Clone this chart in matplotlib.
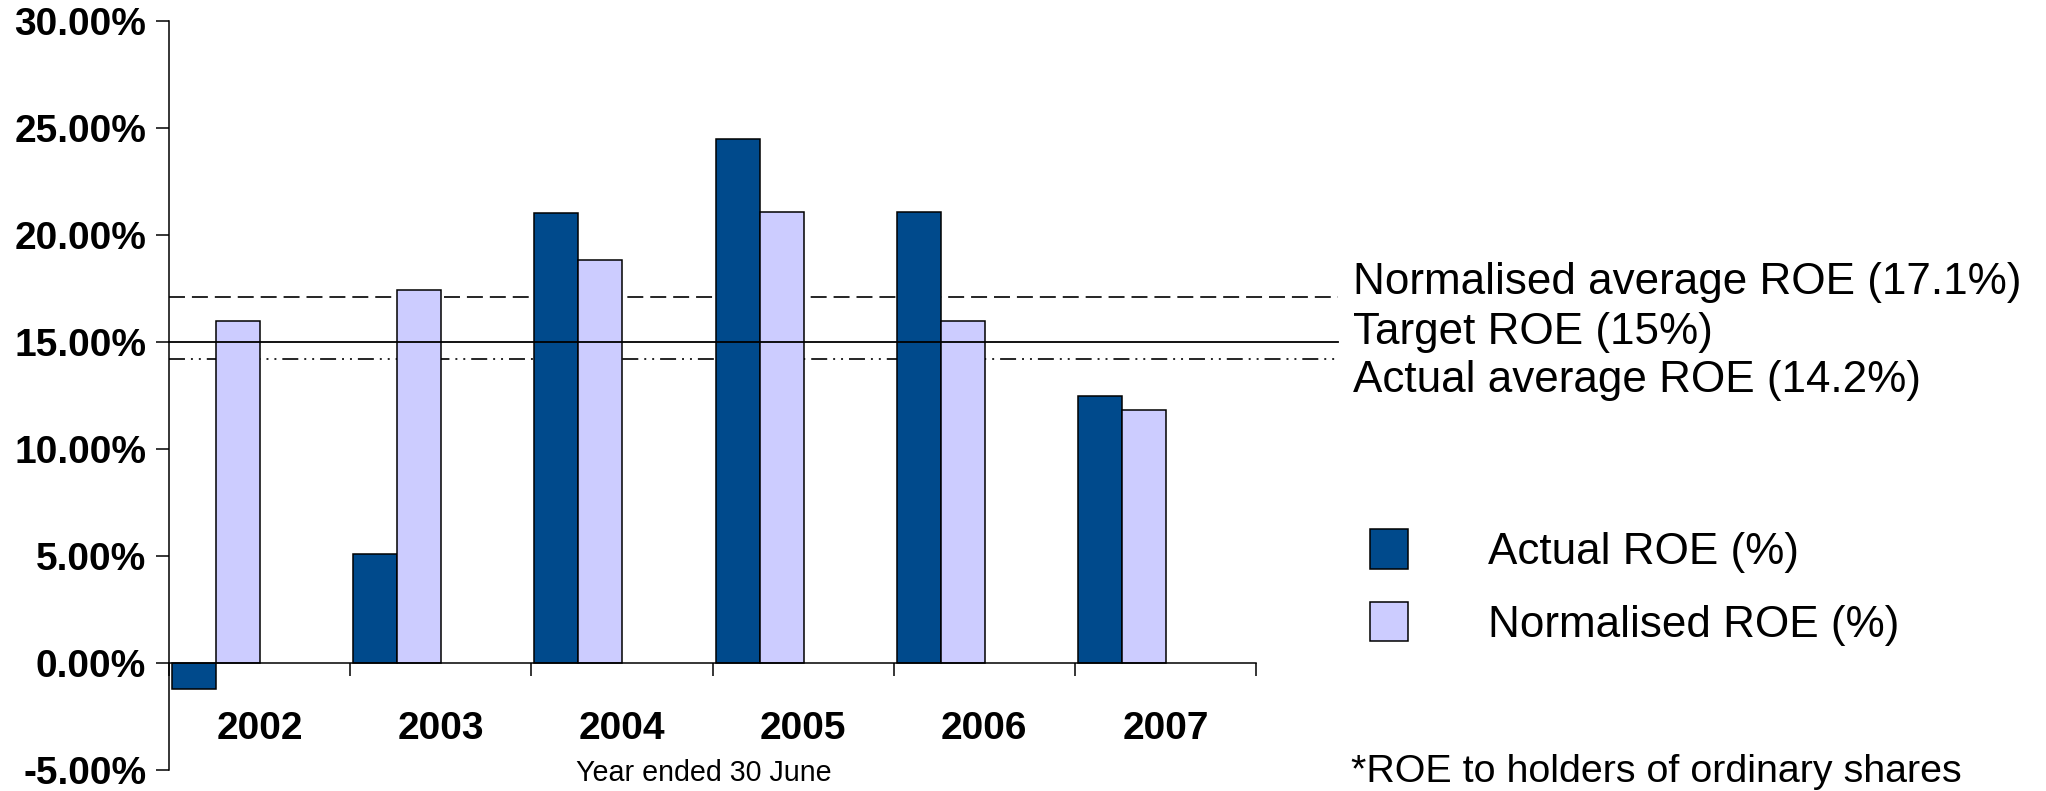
import numpy as np
import matplotlib
matplotlib.use('Agg')
import matplotlib.pyplot as plt

years = ['2002', '2003', '2004', '2005', '2006', '2007']
actual_roe = [-1.2, 5.1, 21.05, 24.5, 21.1, 12.5]
normalised_roe = [16.0, 17.45, 18.85, 21.1, 16.0, 11.85]

normalised_avg = 17.1
target_roe = 15.0
actual_avg = 14.2

ref_labels = ['Normalised average ROE (17.1%)', 'Target ROE (15%)', 'Actual average ROE (14.2%)']
series_labels = ['Actual ROE (%)', 'Normalised ROE (%)']
yticks = [-5, 0, 5, 10, 15, 20, 25, 30]

plt.rcParams['font.family'] = ['Liberation Sans', 'DejaVu Sans']
plt.rcParams['lines.scale_dashes'] = False

fig = plt.figure(figsize=(20.46, 7.91), dpi=100)
ax = fig.add_axes([0.0826, 0.0261, 0.5313, 0.9473])

x = np.arange(len(years))
w = 0.243
b1 = ax.bar(x - 0.362, actual_roe, w, color='#004A8C', edgecolor='black', linewidth=1.1, zorder=2)
b2 = ax.bar(x - 0.119, normalised_roe, w, color='#CCCCFF', edgecolor='black', linewidth=1.1, zorder=2)

# reference lines run past the last category, towards their labels
ext = 1.0754
ax.axhline(normalised_avg, xmax=ext, color='black', lw=1.2, ls=(0, (11.5, 5)), clip_on=False, zorder=1)
ax.axhline(target_roe, xmax=ext, color='black', lw=1.3, clip_on=False, zorder=3)
ax.axhline(actual_avg, xmax=ext, color='black', lw=1.2,
           ls=(0, (11.5, 4.3, 1.4, 4.3, 1.4, 4.3)), clip_on=False, zorder=1)

ax.set_xlim(-0.5, 5.5)
ax.set_ylim(-5, 30)
ax.spines[['top', 'right']].set_visible(False)
ax.spines['bottom'].set_position(('data', 0))
ax.spines['left'].set_linewidth(1.1)
ax.spines['bottom'].set_linewidth(1.1)

ax.set_yticks(yticks, [f'{v:.2f}%' for v in yticks], fontsize=28, fontweight='bold')
ax.tick_params(axis='y', direction='out', length=9.4, width=1.1, pad=7)

ax.set_xticks(np.arange(-0.5, 6, 1.0))
ax.set_xticks(x, years, minor=True, fontsize=28, fontweight='bold')
ax.tick_params(axis='x', which='major', direction='out', length=9.4, width=1.1, labelbottom=False)
ax.tick_params(axis='x', which='minor', length=0, pad=34)

ax.text(2.45, -5.12, 'Year ended 30 June', ha='center', va='center', fontsize=20.6, clip_on=False)

for lbl, y in zip(ref_labels, [0.6425, 0.5792, 0.5186]):
    fig.text(0.6613, y, lbl, fontsize=31.7, va='center')

fig.legend(handles=[b1, b2], labels=series_labels, loc='upper left', bbox_to_anchor=(0.6696, 0.331),
           frameon=False, fontsize=31.7, handlelength=0.86, handleheight=1.0, handletextpad=1.82,
           labelspacing=0.66, borderpad=0, borderaxespad=0)

fig.text(0.6603, 0.012, '*ROE to holders of ordinary shares', fontsize=28.4, va='baseline')

fig.savefig('out.png', dpi=100)
